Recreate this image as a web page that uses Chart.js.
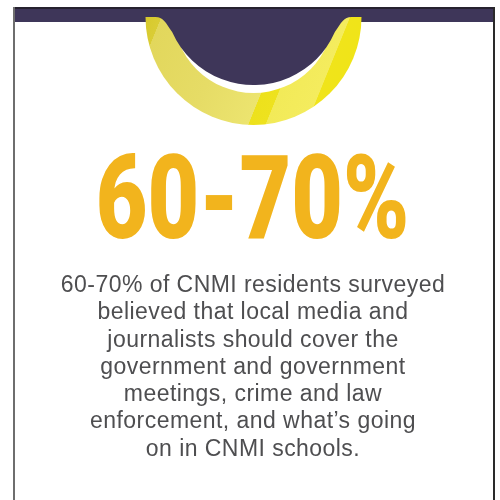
<!DOCTYPE html>
<html>
<head>
<meta charset="utf-8">
<script src="https://cdn.jsdelivr.net/npm/chart.js@4/dist/chart.umd.min.js"></script>
<style>
  html, body { margin: 0; padding: 0; background: #ffffff; }
  #wrap { position: relative; width: 500px; height: 500px; overflow: hidden; }
  #chart { position: absolute; left: 0; top: 0; }
  #headline {
    position: absolute; left: 0; top: 140px; width: 505px;
    text-align: center; white-space: nowrap;
    font-family: Roboto, "Liberation Sans", sans-serif; font-weight: 900;
    font-size: 116px; line-height: 116px; color: #f2b41d;
    transform: scaleX(0.77); transform-origin: 252.5px 0;
  }
  #bodytext {
    position: absolute; left: 0; top: 271px; width: 506px;
    text-align: center; white-space: nowrap;
    font-family: "Liberation Sans", Arial, Helvetica, sans-serif;
    font-size: 23px; line-height: 27.3px; letter-spacing: 0.45px; color: #4e4e50;
  }
</style>
</head>
<body>
<div id="wrap">
  <canvas id="chart" width="500" height="500"></canvas>
  <div id="headline"></div>
  <div id="bodytext"></div>
</div>
<script>
// ---- data ----
const ringLabels = ['CNMI residents surveyed'];
const ringValues = [100];
const headlineText = '60-70%';
const bodyLines = [
  '60-70% of CNMI residents surveyed',
  'believed that local media and',
  'journalists should cover the',
  'government and government',
  'meetings, crime and law',
  'enforcement, and what\u2019s going',
  'on in CNMI schools.'
];

// ---- text ----
document.getElementById('headline').textContent = headlineText;
const bt = document.getElementById('bodytext');
bodyLines.forEach(function (l) {
  const d = document.createElement('div');
  d.textContent = l;
  bt.appendChild(d);
});

// ---- colours ----
const BAR = '#3e3659';

function ringGradient(context) {
  const chart = context.chart;
  const area = chart.chartArea;
  if (!area) return '#e6dc60';
  const cx = (area.left + area.right) / 2;
  const cy = area.top;
  const R = Math.min(area.width / 2, area.height);
  const ux = 0.927, uy = 0.377;
  const g = chart.ctx.createLinearGradient(
    cx + ux * (-0.957 * R), cy + uy * (-0.957 * R),
    cx + ux * (1.006 * R), cy + uy * (1.006 * R));
  g.addColorStop(0.000, '#d6c82a');
  g.addColorStop(0.085, '#dacd35');
  g.addColorStop(0.086, '#e2d75c');
  g.addColorStop(0.400, '#e6dc66');
  g.addColorStop(0.655, '#ece46f');
  g.addColorStop(0.657, '#ede11c');
  g.addColorStop(0.730, '#eee21e');
  g.addColorStop(0.732, '#f2ea58');
  g.addColorStop(0.908, '#f4ec5e');
  g.addColorStop(0.911, '#f0e41a');
  g.addColorStop(1.000, '#f0e418');
  return g;
}

// ---- background frame (drawn under the ring) ----
const framePlugin = {
  id: 'frame',
  beforeDraw(chart) {
    const c = chart.ctx;
    c.save();
    c.fillStyle = '#ffffff';
    c.fillRect(0, 0, 500, 500);
    c.fillStyle = BAR;
    c.fillRect(13, 7, 482, 15);
    c.fillStyle = '#26222f';
    c.fillRect(13, 7, 482, 2);
    c.fillStyle = '#6e6e6e';
    c.fillRect(13, 7, 2, 493);
    c.fillStyle = '#2a2a2a';
    c.fillRect(493, 7, 2, 493);
    c.restore();
  }
};

// ---- inner dark cap and white gap (drawn over the ring) ----
const capPlugin = {
  id: 'cap',
  afterDatasetsDraw(chart) {
    const arc = chart.getDatasetMeta(0).data[0];
    if (!arc) return;
    const cx = arc.x, cy = arc.y, R = arc.outerRadius;
    const c = chart.ctx;
    c.save();
    c.beginPath();
    c.rect(13, 7, 482, 493);
    c.clip();
    c.fillStyle = '#ffffff';
    c.beginPath();
    c.arc(cx, cy - 0.041 * R, 0.744 * R, 0, Math.PI * 2);
    c.fill();
    const dcy = cy - 0.194 * R, dr = 0.824 * R;
    const yj = cy + 0.14 * R;
    const dx = Math.sqrt(dr * dr - (yj - dcy) * (yj - dcy));
    const a0 = Math.atan2(yj - dcy, -dx);
    const a1 = Math.atan2(yj - dcy, dx);
    const sx = 0.907 * R;
    c.fillStyle = BAR;
    c.beginPath();
    c.moveTo(cx - sx, 7);
    c.lineTo(cx - sx, cy);
    c.bezierCurveTo(cx - sx + 0.07 * R, cy, cx - dx - 0.06 * R, cy + 0.05 * R, cx - dx, yj);
    c.arc(cx, dcy, dr, a0, a1, true);
    c.bezierCurveTo(cx + dx + 0.06 * R, cy + 0.05 * R, cx + sx - 0.07 * R, cy, cx + sx, cy);
    c.lineTo(cx + sx, 7);
    c.closePath();
    c.fill();
    c.fillStyle = '#26222f';
    c.fillRect(cx - sx - 1, 7, 2 * sx + 2, 2);
    c.restore();
  }
};

new Chart(document.getElementById('chart'), {
  type: 'doughnut',
  data: {
    labels: ringLabels,
    datasets: [{
      data: ringValues,
      backgroundColor: ringGradient,
      borderWidth: 0,
      hoverOffset: 0
    }]
  },
  options: {
    responsive: false,
    animation: false,
    rotation: 90,
    circumference: 180,
    cutout: 0,
    layout: { padding: { left: 145, right: 138, top: 17, bottom: 375 } },
    plugins: {
      legend: { display: false },
      tooltip: { enabled: false },
      title: { display: false }
    },
    events: []
  },
  plugins: [framePlugin, capPlugin]
});
</script>
</body>
</html>
